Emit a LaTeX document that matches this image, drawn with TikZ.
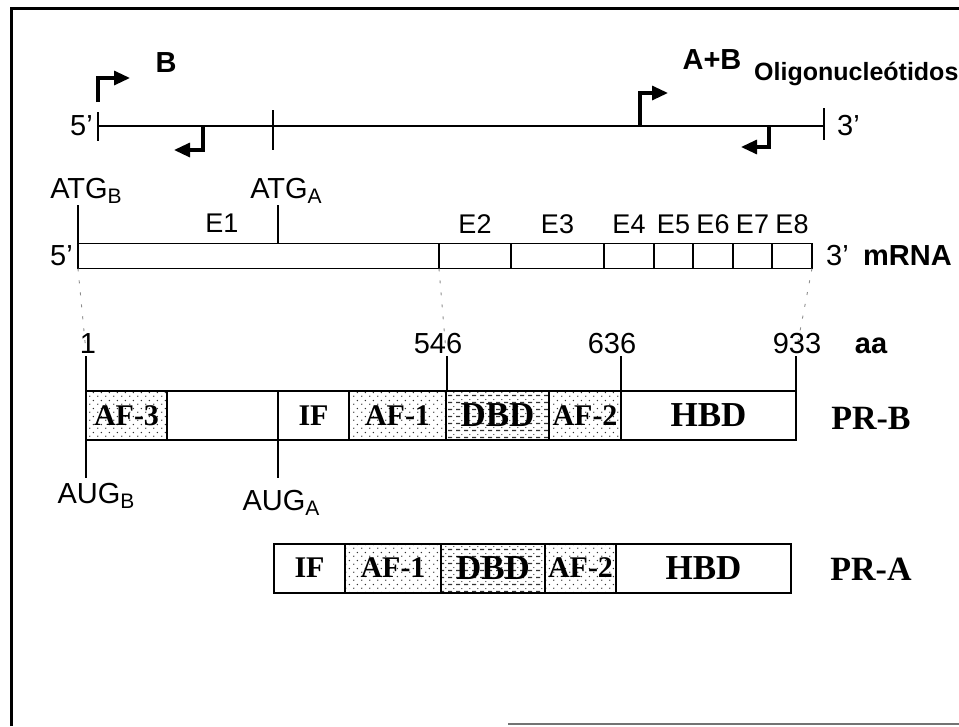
\documentclass[tikz,border=0pt]{standalone}
\usepackage{fontspec}
\setmainfont{Liberation Sans}
\newfontfamily\serifbf{Liberation Serif}
\usetikzlibrary{arrows.meta, positioning, patterns.meta}

% subscript of the start codons
\newcommand{\codonsub}[1]{\raisebox{-0.35ex}{\fontsize{21}{22}\selectfont #1}}

% dotted fill of the AF domains
\tikzdeclarepattern{
  name=afdots,
  type=uncolored,
  bottom left={(0pt,0pt)},
  top right={(8pt,8pt)},
  tile size={(8pt,8pt)},
  code={\fill (2pt,2pt) circle [radius=0.8pt]; \fill (6pt,6pt) circle [radius=0.8pt];}
}
% dashed fill of the DBD domain
\tikzdeclarepattern{
  name=dbddash,
  type=uncolored,
  bottom left={(0pt,0pt)},
  top right={(8pt,7pt)},
  tile size={(8pt,7pt)},
  code={\fill (0pt,1pt) rectangle (4.5pt,2.4pt); \fill (6.5pt,5pt) circle [radius=0.7pt];}
}

\begin{document}
\begin{tikzpicture}[
    x=1pt, y=-1pt,
    lbl/.style={font=\fontsize{29}{31}\selectfont, inner sep=0pt},
    exlbl/.style={font=\fontsize{27}{30}\selectfont, inner sep=0pt},
    boldlbl/.style={font=\fontsize{29}{31}\selectfont\bfseries, inner sep=0pt},
    thinline/.style={line width=1.5pt},
    primer/.style={line width=3.2pt, -{Triangle[length=16pt,width=14pt]}},
    proj/.style={black!45, line width=0.9pt, dash pattern=on 3pt off 9pt},
    exon/.style={rectangle, draw, line width=1.6pt, minimum height=25pt, inner sep=0pt, outer sep=0pt},
    seg/.style={rectangle, draw, line width=2pt, minimum height=49pt, inner sep=0pt, outer sep=0pt, font=\serifbf\bfseries\fontsize{30}{32}\selectfont},
    afseg/.style={seg, pattern=afdots, pattern color=black!80},
    dbdseg/.style={seg, pattern=dbddash, pattern color=black!80, font=\serifbf\bfseries\fontsize{35}{36}\selectfont},
    hbdseg/.style={seg, font=\serifbf\bfseries\fontsize{35}{36}\selectfont},
    prlbl/.style={font=\serifbf\bfseries\fontsize{34}{36}\selectfont, inner sep=0pt}
]
\useasboundingbox (0,0) rectangle (959,726);

% Frame
\draw[line width=3pt] (11,726) -- (11,8) -- (959,8);
\draw[black!55, line width=2pt] (508,724) -- (959,724);

% Gene with oligonucleotides
\coordinate (dfive) at (98,126);
\coordinate (dthree) at (824,126);
\draw[thinline] (dfive) -- (dthree);
\draw[thinline] (98,112) -- (98,141);
\draw[thinline] (273,110) -- (273,150);
\draw[thinline] (824,108) -- (824,140);
\node[lbl, left=5pt of dfive] (gfive) {5'};
\node[lbl, right=13pt of dthree] (gthree) {3'};

\draw[primer] (98,102) |- (130,78);
\draw[primer] (203,126) |- (174,150);
\draw[primer] (640,126) |- (668,93);
\draw[primer] (769,126) |- (741,147);

\node[boldlbl] (primB) at (166,63) {B};
\node[boldlbl] (primAB) at (712,60) {A+B};
\node[font=\fontsize{25}{27}\selectfont\bfseries, inner sep=0pt, anchor=west] (oligo) at (754,74) {Oligonucleótidos};

% mRNA with exons
\node[exon, minimum width=361pt, anchor=west] (eone) at (78,256) {};
\node[exon, minimum width=72pt, right=0pt of eone] (etwo) {};
\node[exon, minimum width=93pt, right=0pt of etwo] (ethree) {};
\node[exon, minimum width=50pt, right=0pt of ethree] (efour) {};
\node[exon, minimum width=39pt, right=0pt of efour] (efive) {};
\node[exon, minimum width=40pt, right=0pt of efive] (esix) {};
\node[exon, minimum width=39pt, right=0pt of esix] (eseven) {};
\node[exon, minimum width=40pt, right=0pt of eseven] (eeight) {};

\node[exlbl] (lone) at (222,223) {E1};
\node[exlbl, above=10pt of etwo] (ltwo) {E2};
\node[exlbl, above=10pt of ethree] (lthree) {E3};
\node[exlbl, above=10pt of efour] (lfour) {E4};
\node[exlbl, above=10pt of efive] (lfive) {E5};
\node[exlbl, above=10pt of esix] (lsix) {E6};
\node[exlbl, above=10pt of eseven] (lseven) {E7};
\node[exlbl, above=10pt of eeight] (leight) {E8};

\node[lbl, left=5pt of eone] (mfive) {5'};
\node[lbl, right=14pt of eeight] (mthree) {3'};
\node[boldlbl, right=14pt of mthree] (mrna) {mRNA};

\draw[thinline] (78,205) -- (eone.north west);
\draw[thinline] (278,205) -- (278,243);
\node[lbl] (atgB) at (86,191) {ATG\codonsub{B}};
\node[lbl] (atgA) at (286,191) {ATG\codonsub{A}};

% projection to the protein
\draw[proj] (eone.south west) -- (86,352);
\draw[proj] (etwo.south west) -- (446,352);
\draw[proj] (eeight.south east) -- (796,352);

% Amino acid positions
\draw[thinline] (86,356) -- (86,391);
\draw[thinline] (447,356) -- (447,391);
\draw[thinline] (621,356) -- (621,391);
\draw[thinline] (796,356) -- (796,391);
\node[lbl, anchor=base] (aaone) at (88,353) {1};
\node[lbl, anchor=base] (aafivefoursix) at (438,353) {546};
\node[lbl, anchor=base] (aasixthreesix) at (612,353) {636};
\node[lbl, anchor=base] (aanine) at (797,353) {933};
\node[boldlbl, anchor=base] (aaunit) at (871,353) {aa};

% PR-B
\node[afseg, minimum width=81pt, anchor=west] (afthreeB) at (86,415.5) {AF-3};
\node[seg, minimum width=111pt, right=0pt of afthreeB] (gapB) {};
\node[seg, minimum width=71pt, right=0pt of gapB] (ifB) {IF};
\node[afseg, minimum width=97pt, right=0pt of ifB] (afoneB) {AF-1};
\node[dbdseg, minimum width=103pt, right=0pt of afoneB] (dbdB) {DBD};
\node[afseg, minimum width=72pt, right=0pt of dbdB] (aftwoB) {AF-2};
\node[hbdseg, minimum width=175pt, right=0pt of aftwoB] (hbdB) {HBD};
\node[prlbl] (prB) at (871,418) {PR-B};

\draw[thinline] (afthreeB.south west) -- (86,478);
\draw[thinline] (gapB.south east) -- (278,478);
\node[lbl] (augB) at (96,496) {AUG\codonsub{B}};
\node[lbl] (augA) at (281,503) {AUG\codonsub{A}};

% PR-A
\node[seg, minimum width=71pt, anchor=west] (ifA) at (274,568) {IF};
\node[afseg, minimum width=96pt, right=0pt of ifA] (afoneA) {AF-1};
\node[dbdseg, minimum width=104pt, right=0pt of afoneA] (dbdA) {DBD};
\node[afseg, minimum width=71pt, right=0pt of dbdA] (aftwoA) {AF-2};
\node[hbdseg, minimum width=175pt, right=0pt of aftwoA] (hbdA) {HBD};
\node[prlbl] (prA) at (871,569) {PR-A};

\end{tikzpicture}
\end{document}
